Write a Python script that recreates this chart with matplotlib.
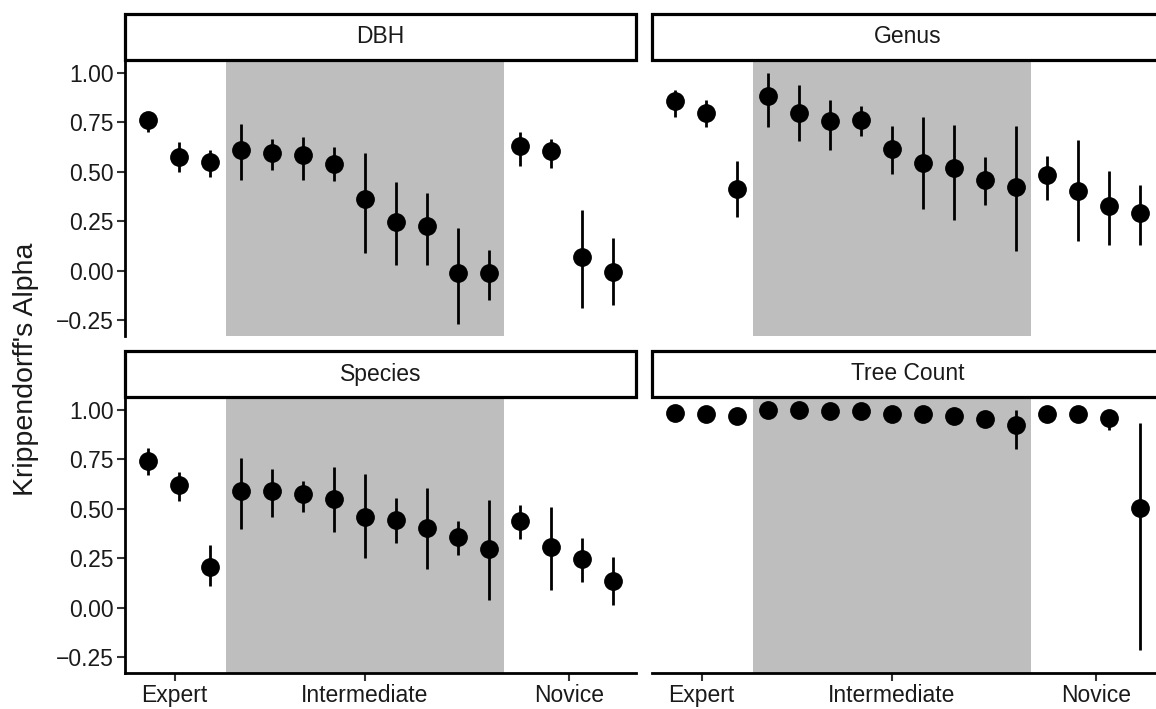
import matplotlib
matplotlib.use("Agg")
import matplotlib.pyplot as plt
from matplotlib.patches import Rectangle

plt.rcParams['font.family'] = ['Liberation Sans', 'DejaVu Sans']

# ---------------- data ----------------
panels = ["DBH", "Genus", "Species", "Tree Count"]
x_pos = list(range(1, 17))
group_labels = ["Expert", "Intermediate", "Novice"]
group_ticks = [1.85, 8, 14.6]
shade_range = [3.5, 12.5]
y_ticks = [-0.25, 0.00, 0.25, 0.50, 0.75, 1.00]

dbh_est = [0.76, 0.574, 0.549, 0.611, 0.595, 0.586, 0.54, 0.363, 0.248, 0.226, -0.010, -0.010, 0.628, 0.603, 0.068, -0.005]
dbh_lo  = [0.70, 0.497, 0.476, 0.459, 0.51, 0.459, 0.451, 0.088, 0.029, 0.029, -0.267, -0.149, 0.53, 0.519, -0.191, -0.174]
dbh_hi  = [0.80, 0.65, 0.61, 0.743, 0.666, 0.676, 0.623, 0.595, 0.446, 0.395, 0.218, 0.105, 0.699, 0.666, 0.307, 0.167]

genus_est = [0.858, 0.797, 0.414, 0.884, 0.797, 0.755, 0.763, 0.615, 0.545, 0.52, 0.456, 0.425, 0.484, 0.405, 0.326, 0.293]
genus_lo  = [0.778, 0.724, 0.271, 0.724, 0.654, 0.61, 0.682, 0.489, 0.313, 0.254, 0.333, 0.099, 0.358, 0.15, 0.132, 0.132]
genus_hi  = [0.913, 0.862, 0.556, 1.00, 0.94, 0.862, 0.834, 0.729, 0.775, 0.738, 0.573, 0.729, 0.582, 0.661, 0.503, 0.434]

species_est = [0.743, 0.62, 0.208, 0.592, 0.592, 0.575, 0.55, 0.46, 0.444, 0.402, 0.356, 0.297, 0.437, 0.306, 0.244, 0.133]
species_lo  = [0.671, 0.538, 0.109, 0.398, 0.457, 0.486, 0.382, 0.25, 0.328, 0.197, 0.267, 0.04, 0.345, 0.092, 0.129, 0.015]
species_hi  = [0.805, 0.684, 0.318, 0.755, 0.70, 0.639, 0.713, 0.676, 0.553, 0.605, 0.44, 0.545, 0.519, 0.511, 0.351, 0.255]

tree_est = [0.983, 0.978, 0.970, 1.000, 0.998, 0.995, 0.995, 0.978, 0.978, 0.970, 0.953, 0.924, 0.978, 0.978, 0.961, 0.504]
tree_lo  = [0.975, 0.970, 0.960, 0.995, 0.993, 0.988, 0.988, 0.970, 0.970, 0.960, 0.940, 0.800, 0.970, 0.970, 0.899, -0.212]
tree_hi  = [0.990, 0.985, 0.980, 1.000, 1.000, 1.000, 1.000, 0.985, 0.985, 0.980, 0.965, 0.998, 0.985, 0.985, 0.975, 0.936]

series = {
    "DBH": (dbh_est, dbh_lo, dbh_hi),
    "Genus": (genus_est, genus_lo, genus_hi),
    "Species": (species_est, species_lo, species_hi),
    "Tree Count": (tree_est, tree_lo, tree_hi),
}

# ---------------- layout ----------------
W, H = 1156, 709
fig = plt.figure(figsize=(W / 100, H / 100), dpi=100)

col_left = [125, 652]
panel_w = 511
row_top = [60, 397]
panel_h = 276
strip_h = 46

text_col = '#1a1a1a'
for i, name in enumerate(panels):
    r, c = divmod(i, 2)
    left = col_left[c] / W
    bottom = 1 - (row_top[r] + panel_h) / H
    ax = fig.add_axes([left, bottom, panel_w / W, panel_h / H])
    est, lo, hi = series[name]
    ax.axvspan(shade_range[0], shade_range[1], color='#BEBEBE', lw=0, zorder=0)
    ax.vlines(x_pos, lo, hi, color='black', lw=2.0, zorder=2)
    ax.plot(x_pos, est, 'o', ms=12.5, color='black', mec='black', zorder=3)
    ax.set_xlim(0.25, 16.75)
    ax.set_ylim(-0.33, 1.065)
    for s in ['top', 'right']:
        ax.spines[s].set_visible(False)
    ax.spines['left'].set_visible(c == 0)
    ax.spines['bottom'].set_visible(r == 1)
    for s in ['left', 'bottom']:
        ax.spines[s].set_linewidth(2.0)
    ax.tick_params(axis='both', length=5.5, width=1.5, color='#333333',
                   labelsize=16.5, labelcolor=text_col, pad=2.5)
    ax.set_yticks(y_ticks)
    if c == 0:
        ax.set_yticklabels([f"{v:.2f}".replace('-', '\u2212') for v in y_ticks])
    else:
        ax.tick_params(axis='y', left=False, labelleft=False)
    ax.set_xticks(group_ticks)
    if r == 1:
        ax.set_xticklabels(group_labels)
    else:
        ax.tick_params(axis='x', bottom=False, labelbottom=False)
    sh = strip_h / panel_h
    ax.add_patch(Rectangle((0, 1), 1, sh, transform=ax.transAxes, clip_on=False,
                           facecolor='white', edgecolor='black', lw=2.3, zorder=5))
    ax.text(0.5, 1 + sh / 2, name, transform=ax.transAxes, ha='center', va='center',
            fontsize=16.5, color=text_col, zorder=6)

fig.text(26 / W, 1 - 369 / H, "Krippendorff's Alpha", rotation=90, ha='center',
         va='center', fontsize=20.5, color=text_col)

fig.savefig("out.png", dpi=100)
